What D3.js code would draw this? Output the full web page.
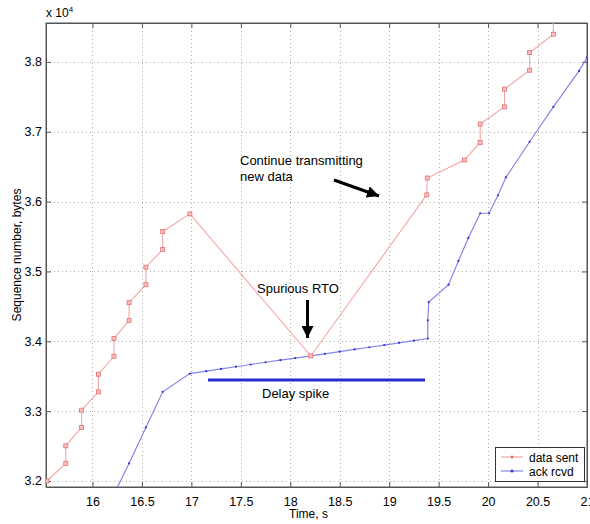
<!DOCTYPE html>
<html>
<head>
<meta charset="utf-8">
<script src="https://cdn.jsdelivr.net/npm/d3@7"></script>
<style>
  body { margin: 0; background: #fff; }
  text { font-family: "Liberation Sans", Arial, sans-serif; fill: #000; }
</style>
</head>
<body>
<div id="chart"></div>
<script>
// data (time in s, sequence number in bytes)
var sentTimes = [15.54, 15.73, 15.73, 15.89, 15.89, 16.06, 16.06, 16.217, 16.217, 16.37, 16.37,
  16.54, 16.54, 16.71, 16.71, 16.985, 18.207, 19.38, 19.385, 19.76, 19.92, 19.92,
  20.166, 20.166, 20.42, 20.42, 20.66, 20.66];
var sentSeq = [32000, 32253, 32504, 32767, 33014, 33276, 33529, 33786, 34039, 34300, 34553,
  34810, 35061, 35314, 35571, 35824, 33790, 36096, 36338, 36595, 36847, 37110,
  37357, 37610, 37881, 38133, 38396, 38650];

var ackTimes = [16.21, 16.37, 16.54, 16.71, 16.985, 17.15, 17.3, 17.45, 17.6, 17.75, 17.9,
  18.05, 18.207, 18.35, 18.5, 18.65, 18.8, 18.95, 19.1, 19.25, 19.39, 19.39, 19.40,
  19.60, 19.70, 19.80, 19.92, 20.01, 20.10, 20.18, 20.42, 20.66, 20.92, 21.0];
var ackSeq = [31786, 32253, 32767, 33276, 33538, 33572, 33604, 33636, 33668, 33700, 33730,
  33760, 33790, 33820, 33852, 33884, 33915, 33946, 33978, 34010, 34039, 34300, 34561,
  34810, 35150, 35480, 35833, 35833, 36090, 36347, 36857, 37357, 37871, 38060];

var xTicks = [16, 16.5, 17, 17.5, 18, 18.5, 19, 19.5, 20, 20.5, 21];
var yTicks = [32000, 33000, 34000, 35000, 36000, 37000, 38000];
var legendNames = ["data sent", "ack rcvd"];

(function() {
  var W = 590, H = 524;
  var mLeft = 46, mRight = 587, mTop = 23, mBottom = 487;

  var svg = d3.select("#chart").append("svg")
    .attr("width", W).attr("height", H);

  var x = d3.scaleLinear().domain([15.53, 21.0]).range([mLeft, mRight]);
  var y = d3.scaleLinear().domain([31914, 38557]).range([mBottom, mTop]);

  // grid
  var grid = svg.append("g").attr("stroke", "#b0b0b0").attr("stroke-width", 1)
    .attr("stroke-dasharray", "1,3");
  grid.selectAll(".gx").data(xTicks.filter(function(d){ return d < 21; })).enter().append("line")
    .attr("x1", function(d){ return Math.round(x(d)) + 0.5; })
    .attr("x2", function(d){ return Math.round(x(d)) + 0.5; })
    .attr("y1", mTop).attr("y2", mBottom);
  grid.selectAll(".gy").data(yTicks).enter().append("line")
    .attr("y1", function(d){ return Math.round(y(d)) + 0.5; })
    .attr("y2", function(d){ return Math.round(y(d)) + 0.5; })
    .attr("x1", mLeft).attr("x2", mRight);

  // axes (matlab style, ticks inward on all four sides)
  var fmtY = function(d){ return (d / 1e4).toFixed(1); };
  var axB = svg.append("g").attr("transform", "translate(0," + mBottom + ")")
    .call(d3.axisBottom(x).tickValues(xTicks).tickSizeInner(-5).tickSizeOuter(0).tickPadding(10)
      .tickFormat(function(d){ return d3.format("")(d); }));
  var axT = svg.append("g").attr("transform", "translate(0," + mTop + ")")
    .call(d3.axisTop(x).tickValues(xTicks).tickSizeInner(-5).tickSizeOuter(0).tickFormat(""));
  var axL = svg.append("g").attr("transform", "translate(" + mLeft + ",0)")
    .call(d3.axisLeft(y).tickValues(yTicks).tickSizeInner(-5).tickSizeOuter(0).tickPadding(4)
      .tickFormat(fmtY));
  var axR = svg.append("g").attr("transform", "translate(" + mRight + ",0)")
    .call(d3.axisRight(y).tickValues(yTicks).tickSizeInner(-5).tickSizeOuter(0).tickFormat(""));
  [axB, axT, axL, axR].forEach(function(a){
    a.select(".domain").attr("stroke", "#555");
    a.selectAll(".tick line").attr("stroke", "#555");
    a.selectAll("text").attr("font-size", "12.5px")
      .attr("font-family", "Liberation Sans, Arial, sans-serif").attr("fill", "#111");
  });
  svg.append("rect").attr("x", mLeft).attr("y", mTop).attr("width", mRight - mLeft)
    .attr("height", mBottom - mTop).attr("fill", "none").attr("stroke", "#555");

  // exponent label
  var ex = svg.append("text").attr("x", mLeft).attr("y", 17).attr("font-size", "12px");
  ex.append("tspan").text("x 10");
  ex.append("tspan").attr("dy", -5).attr("font-size", "8px").text("4");

  // axis labels
  svg.append("text").attr("x", (mLeft + mRight) / 2 - 8).attr("y", 518)
    .attr("text-anchor", "middle").attr("font-size", "12px").text("Time, s");
  svg.append("text").attr("transform", "translate(21," + ((mTop + mBottom) / 2) + ") rotate(-90)")
    .attr("text-anchor", "middle").attr("font-size", "12px").text("Sequence number, bytes");

  // data
  svg.append("clipPath").attr("id", "clip").append("rect")
    .attr("x", mLeft).attr("y", mTop).attr("width", mRight - mLeft).attr("height", mBottom - mTop);
  var plot = svg.append("g").attr("clip-path", "url(#clip)");

  var sent = sentTimes.map(function(t, i){ return [t, sentSeq[i]]; });
  var ack = ackTimes.map(function(t, i){ return [t, ackSeq[i]]; });
  var line = d3.line().x(function(d){ return x(d[0]); }).y(function(d){ return y(d[1]); });

  plot.append("path").datum(ack).attr("d", line).attr("fill", "none")
    .attr("stroke", "#8585ec").attr("stroke-width", 1.2);
  plot.selectAll(".am").data(ack).enter().append("circle")
    .attr("cx", function(d){ return x(d[0]); }).attr("cy", function(d){ return y(d[1]); })
    .attr("r", 1.1).attr("fill", "#3434cc");

  plot.append("path").datum(sent).attr("d", line).attr("fill", "none")
    .attr("stroke", "#f3a6a6").attr("stroke-width", 1.1);
  plot.selectAll(".sm").data(sent).enter().append("rect")
    .attr("x", function(d){ return x(d[0]) - 2; }).attr("y", function(d){ return y(d[1]) - 2; })
    .attr("width", 4).attr("height", 4).attr("fill", "#f6c0c0").attr("stroke", "#e57070")
    .attr("stroke-width", 0.8);

  // annotations
  var ann = svg.append("g").attr("font-size", "13px");
  ann.append("text").attr("x", 240).attr("y", 165).text("Continue transmitting");
  ann.append("text").attr("x", 240).attr("y", 181).text("new data");
  ann.append("text").attr("x", 257).attr("y", 293).text("Spurious RTO");
  ann.append("text").attr("x", 262).attr("y", 398).text("Delay spike");

  svg.append("defs").append("marker").attr("id", "ah").attr("viewBox", "0 0 10 10")
    .attr("refX", 10).attr("refY", 5).attr("markerWidth", 4).attr("markerHeight", 4)
    .attr("orient", "auto").attr("markerUnits", "strokeWidth")
    .append("path").attr("d", "M0,0 L10,5 L0,10 z").attr("fill", "#000");
  svg.append("line").attr("x1", 334).attr("y1", 180).attr("x2", 379).attr("y2", 196)
    .attr("stroke", "#000").attr("stroke-width", 3).attr("marker-end", "url(#ah)");
  svg.append("line").attr("x1", 307.5).attr("y1", 300).attr("x2", 307.5).attr("y2", 338)
    .attr("stroke", "#000").attr("stroke-width", 3).attr("marker-end", "url(#ah)");
  svg.append("line").attr("x1", 208).attr("y1", 380).attr("x2", 425).attr("y2", 380)
    .attr("stroke", "#2a2ad0").attr("stroke-width", 3);

  // legend
  var lg = svg.append("g");
  lg.append("rect").attr("x", 495.5).attr("y", 447.5).attr("width", 89).attr("height", 34)
    .attr("fill", "#fff").attr("stroke", "#333");
  var lcol = [["#f3a6a6", "#e57070"], ["#8585ec", "#3434cc"]];
  legendNames.forEach(function(n, i){
    var yy = 457 + i * 14;
    lg.append("line").attr("x1", 501).attr("x2", 523).attr("y1", yy).attr("y2", yy)
      .attr("stroke", lcol[i][0]).attr("stroke-width", 1.2);
    lg.append("circle").attr("cx", 512).attr("cy", yy).attr("r", 1.5).attr("fill", lcol[i][1]);
    lg.append("text").attr("x", 529).attr("y", yy + 4.5).attr("font-size", "12px").text(n);
  });
})();
</script>
</body>
</html>
